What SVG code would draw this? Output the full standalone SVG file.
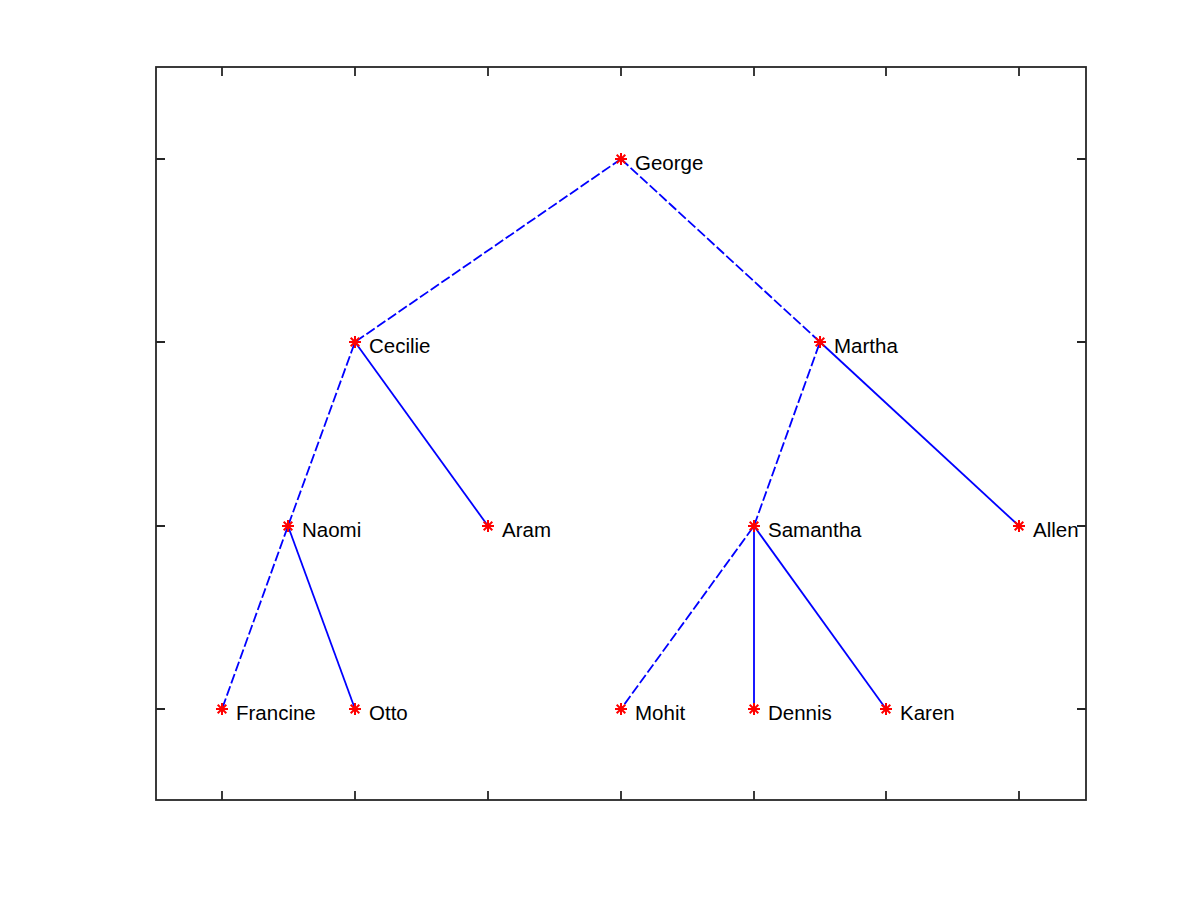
<svg xmlns="http://www.w3.org/2000/svg" width="1200" height="900" viewBox="0 0 1200 900">
<defs>
<style>
.ax{stroke:#262626;stroke-width:1.8;fill:none}
.e{stroke:#0000ff;stroke-width:1.8;fill:none}
.d{stroke-dasharray:10 3}
.lbl{font-family:"Liberation Sans",Arial,sans-serif;font-size:20.5px;fill:#000}
.m{stroke:#ff0000;stroke-width:2}
</style>
<g id="star"><path class="m" d="M-6,0H6M0,-6V6M-4.3,-4.3L4.3,4.3M-4.3,4.3L4.3,-4.3"/></g>
</defs>
<rect width="1200" height="900" fill="#fff"/>
<g id="axes">
<rect class="ax" x="156" y="67" width="930" height="733"/>
<path class="ax" d="M222,800v-9M355,800v-9M488,800v-9M621,800v-9M754,800v-9M886,800v-9M1019,800v-9M222,67v9M355,67v9M488,67v9M621,67v9M754,67v9M886,67v9M1019,67v9M156,159h9M156,342h9M156,526h9M156,709h9M1086,159h-9M1086,342h-9M1086,526h-9M1086,709h-9"/>
</g>
<g id="connectors">
<path class="e d" d="M621,159L355,342L288,526L222,709"/>
<path class="e d" d="M621,159L820,342L754,526L621,709"/>
<path class="e" d="M355,342L488,526"/>
<path class="e" d="M288,526L355,709"/>
<path class="e" d="M820,342L1019,526"/>
<path class="e" d="M754,526L754,709"/>
<path class="e" d="M754,526L886,709"/>
</g>
<g id="George"><use href="#star" x="621" y="159"/><text class="lbl" x="635" y="170">George</text></g>
<g id="Cecilie"><use href="#star" x="355" y="342"/><text class="lbl" x="369" y="353">Cecilie</text></g>
<g id="Martha"><use href="#star" x="820" y="342"/><text class="lbl" x="834" y="353">Martha</text></g>
<g id="Naomi"><use href="#star" x="288" y="526"/><text class="lbl" x="302" y="537">Naomi</text></g>
<g id="Aram"><use href="#star" x="488" y="526"/><text class="lbl" x="502" y="537">Aram</text></g>
<g id="Samantha"><use href="#star" x="754" y="526"/><text class="lbl" x="768" y="537">Samantha</text></g>
<g id="Allen"><use href="#star" x="1019" y="526"/><text class="lbl" x="1033" y="537">Allen</text></g>
<g id="Francine"><use href="#star" x="222" y="709"/><text class="lbl" x="236" y="720">Francine</text></g>
<g id="Otto"><use href="#star" x="355" y="709"/><text class="lbl" x="369" y="720">Otto</text></g>
<g id="Mohit"><use href="#star" x="621" y="709"/><text class="lbl" x="635" y="720">Mohit</text></g>
<g id="Dennis"><use href="#star" x="754" y="709"/><text class="lbl" x="768" y="720">Dennis</text></g>
<g id="Karen"><use href="#star" x="886" y="709"/><text class="lbl" x="900" y="720">Karen</text></g>
</svg>
